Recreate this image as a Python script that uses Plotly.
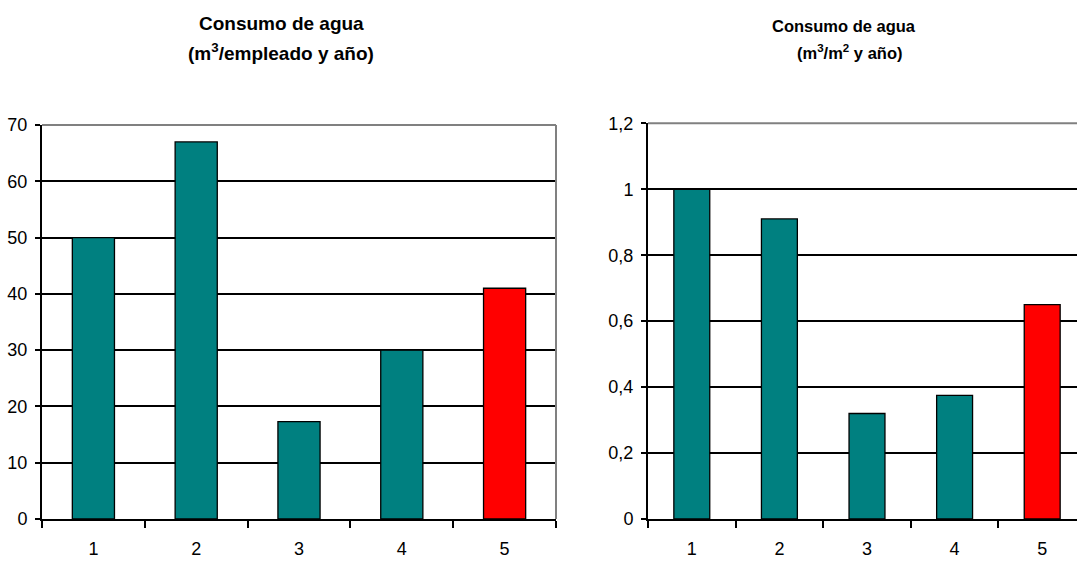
import plotly.graph_objects as go

# Water consumption per site (5 sites)
categories = ["1", "2", "3", "4", "5"]
per_employee = [50, 67, 17.3, 30, 41]        # m3 / employee and year
per_area = [1.0, 0.91, 0.32, 0.375, 0.65]    # m3 / m2 and year
bar_colors = ["#008080", "#008080", "#008080", "#008080", "#FF0000"]

W, H = 1077, 562


def px_x(v):
    return v / W


def px_y(v):
    return 1 - v / H


fig = go.Figure()

fig.add_trace(go.Bar(
    x=categories, y=per_employee, xaxis="x", yaxis="y",
    marker=dict(color=bar_colors, line=dict(color="black", width=1.3)),
    hoverinfo="x+y", showlegend=False,
))
fig.add_trace(go.Bar(
    x=categories, y=per_area, xaxis="x2", yaxis="y2",
    marker=dict(color=bar_colors, line=dict(color="black", width=1.3)),
    hoverinfo="x+y", showlegend=False,
))

tick_font = dict(family="Liberation Sans, Arial, sans-serif", size=18, color="black")

common_x = dict(
    type="category", tickson="boundaries", ticks="outside", ticklen=7,
    tickwidth=1.5, tickcolor="black", showline=True, linecolor="black",
    linewidth=2, showgrid=False, zeroline=False, tickfont=tick_font,
    ticklabelstandoff=12, automargin=False,
)
common_y = dict(
    ticks="outside", ticklen=5, tickwidth=1.5, tickcolor="black",
    showline=True, linecolor="black", linewidth=2, showgrid=True,
    gridcolor="black", gridwidth=1.5, zeroline=False, tickfont=tick_font,
    ticklabelstandoff=4, automargin=False,
)

# Left panel: 5 categories across 42..556 px
fig.update_layout(
    xaxis=dict(domain=[px_x(42), px_x(556)], range=[-0.5, 4.5], anchor="y", **common_x),
    yaxis=dict(domain=[px_y(519), px_y(125)], range=[0, 70], dtick=10, anchor="x", **common_y),
    # Right panel: category width ~87.6 px, plot area runs off the right edge
    xaxis2=dict(domain=[px_x(648), 1.0], range=[-0.5, 4.5 - (1086 - W) / 87.6],
                anchor="y2", **common_x),
    yaxis2=dict(domain=[px_y(519), px_y(123.3)], range=[0, 1.2], dtick=0.2,
                anchor="x2", **common_y),
    separators=", ",
)

# Gray frame on top and right of the plot areas
frame = dict(color="#808080", width=2)
fig.add_shape(type="line", xref="paper", yref="paper",
              x0=px_x(42), x1=px_x(556), y0=px_y(125), y1=px_y(125), line=frame)
fig.add_shape(type="line", xref="paper", yref="paper",
              x0=px_x(556), x1=px_x(556), y0=px_y(125), y1=px_y(519), line=frame)
fig.add_shape(type="line", xref="paper", yref="paper",
              x0=px_x(648), x1=1.0, y0=px_y(123.3), y1=px_y(123.3), line=frame)

title_font = dict(family="Liberation Sans, Arial, sans-serif", color="black")
titles = [
    ("<b>Consumo de agua</b>", 281, 23, 19),
    ("<b>(m<sup>3</sup>/empleado y año)</b>", 281, 52, 19),
    ("<b>Consumo de agua</b>", 844, 26, 16.5),
    ("<b>(m<sup>3</sup>/m<sup>2</sup> y año)</b>", 849, 52, 16.5),
]
for text, cx, cy, size in titles:
    fig.add_annotation(text=text, x=px_x(cx), y=px_y(cy), xref="paper", yref="paper",
                       xanchor="center", yanchor="middle", showarrow=False,
                       font=dict(size=size, **title_font))

fig.update_layout(
    width=W, height=H, margin=dict(l=0, r=0, t=0, b=0, autoexpand=False),
    paper_bgcolor="white", plot_bgcolor="white",
    bargap=0.59,
)

fig.write_html("out.html")
